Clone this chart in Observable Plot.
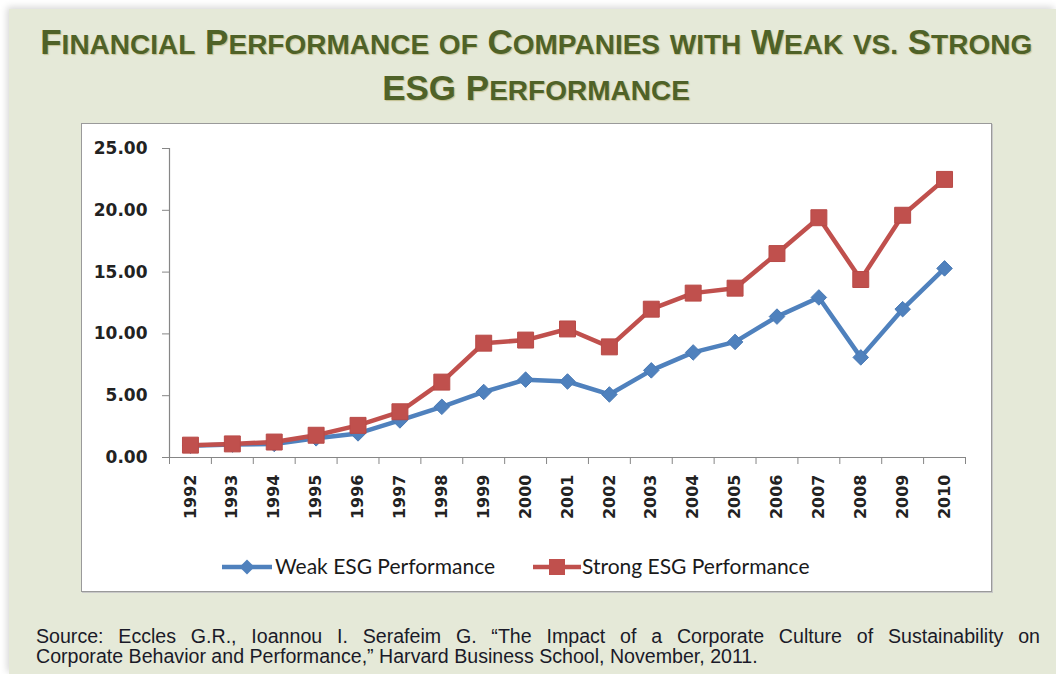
<!DOCTYPE html>
<html><head><meta charset="utf-8">
<script src="https://cdn.jsdelivr.net/npm/d3@7"></script>
<script src="https://cdn.jsdelivr.net/npm/@observablehq/plot@0.6"></script>
<style>
body{margin:0;background:#fff;width:1056px;height:674px;overflow:hidden;position:relative;}
#panel{position:absolute;left:9px;top:9px;width:1047px;height:665px;background:#e5e9d8;box-shadow:-2px -2px 7px rgba(0,0,0,0.16);}
.tline{position:absolute;left:40px;width:992px;text-align:center;font-family:"Liberation Sans",Arial,sans-serif;font-weight:bold;color:#4f6228;font-size:35px;line-height:35px;white-space:nowrap;text-shadow:1px 1px 1px rgba(170,160,90,0.55);}
.tline .sm{font-size:28px;}
#box{position:absolute;left:81px;top:123px;width:909px;height:467px;background:#fff;border:1px solid #9a9a9a;box-shadow:1px 1px 0 #c8c8c8;}
#chart{position:absolute;left:81px;top:123px;}
.leg{position:absolute;top:555px;font-family:Lato,"Open Sans",sans-serif;font-size:21px;line-height:21px;color:#1a1a1a;white-space:nowrap;}
.sw{position:absolute;top:557px;}
.cap{position:absolute;left:36px;width:1004px;font-family:"Liberation Sans",Arial,sans-serif;font-size:19.6px;line-height:20px;color:#1a1a28;}
</style>
</head><body>
<div id="panel"></div>
<div class="tline" id="t1" style="top:24px"></div>
<div class="tline" id="t2" style="top:70px"></div>
<div id="box"></div>
<div id="chart"></div>
<svg class="sw" style="left:220px" width="54" height="20"><line x1="2" x2="52" y1="10" y2="10" stroke="#4f81bd" stroke-width="4.5"/><path d="M27,2.5L34.5,10L27,17.5L19.5,10Z" fill="#4f81bd"/></svg>
<div class="leg" style="left:275px">Weak ESG Performance</div>
<svg class="sw" style="left:531px" width="52" height="20"><line x1="2" x2="50" y1="10" y2="10" stroke="#c0504d" stroke-width="4.5"/><rect x="18" y="2" width="16" height="16" fill="#c0504d"/></svg>
<div class="leg" style="left:582px">Strong ESG Performance</div>
<div class="cap" style="top:626px;text-align:justify;text-align-last:justify;">Source: Eccles G.R., Ioannou I. Serafeim G. “The Impact of a Corporate Culture of Sustainability on</div>
<div class="cap" style="top:646px;">Corporate Behavior and Performance,” Harvard Business School, November, 2011.</div>
<script>
const titleLine1 = "Financial Performance of Companies with Weak vs. Strong";
const titleLine2 = "ESG Performance";
const years = [1992,1993,1994,1995,1996,1997,1998,1999,2000,2001,2002,2003,2004,2005,2006,2007,2008,2009,2010];
const weak = [0.95,1.05,1.1,1.55,1.95,3.0,4.1,5.3,6.3,6.15,5.1,7.05,8.5,9.35,11.4,12.95,8.1,12.0,15.3];
const strong = [1.0,1.1,1.25,1.8,2.6,3.7,6.1,9.25,9.5,10.4,8.95,12.0,13.3,13.7,16.5,19.4,14.4,19.6,22.5];
const yTicks = [0,5,10,15,20,25];

function smallCaps(el, s){
  const span = document.createElement("span");
  for (const ch of s){
    const c = document.createElement("span");
    if (ch === ch.toUpperCase() && ch !== ch.toLowerCase()) { c.textContent = ch; }
    else if (ch === " ") { c.textContent = " "; }
    else { c.className = "sm"; c.textContent = ch.toUpperCase(); }
    span.appendChild(c);
  }
  el.appendChild(span);
  return span;
}
const s1 = smallCaps(document.getElementById("t1"), titleLine1);
smallCaps(document.getElementById("t2"), titleLine2);
const f = 992 / s1.getBoundingClientRect().width;
for (const id of ["t1","t2"]) {
  const el = document.getElementById(id);
  el.style.transform = `scaleX(${f})`;
  el.style.transformOrigin = "center";
}

const weakData = years.map((y,i)=>({year:y, value:weak[i]}));
const strongData = years.map((y,i)=>({year:y, value:strong[i]}));
const bounds = [...years.map(y=>y-0.5), years[years.length-1]+0.5];
const axisColor = "#868686";

const chart = Plot.plot({
  width: 911, height: 404,
  marginLeft: 88, marginRight: 27, marginTop: 25, marginBottom: 70,
  style: {background: "transparent", fontFamily: "DejaVu Sans", fontWeight: "bold", overflow: "visible", color: "#222"},
  x: {domain: [years[0]-0.5, years[years.length-1]+0.5], axis: null},
  y: {domain: [0, 25], axis: null},
  marks: [
    Plot.ruleY([0], {stroke: axisColor, strokeWidth: 1.2}),
    Plot.ruleX([years[0]-0.5], {stroke: axisColor, strokeWidth: 1.2}),
    Plot.axisY({ticks: yTicks, label: null, tickSize: 7, tickPadding: 15, tickFormat: d => d.toFixed(2), fontSize: 17, stroke: axisColor, fill: "#222", fontWeight: "bold"}),
    Plot.axisX({ticks: bounds, label: null, tickSize: 7, tickFormat: () => "", stroke: axisColor}),
    Plot.axisX({ticks: years, label: null, tickSize: 0, tickPadding: 17, tickRotate: -90, tickFormat: d => String(d), fontSize: 16, fill: "#222", fontWeight: "bold"}),
    Plot.line(weakData, {x: "year", y: "value", stroke: "#4f81bd", strokeWidth: 4.5}),
    Plot.dot(weakData, {x: "year", y: "value", symbol: "diamond2", r: 7, fill: "#4f81bd", stroke: "#4a7ab5", strokeWidth: 1}),
    Plot.line(strongData, {x: "year", y: "value", stroke: "#c0504d", strokeWidth: 4.5}),
    Plot.dot(strongData, {x: "year", y: "value", symbol: "square", r: 9, fill: "#c0504d", stroke: "#b84a47", strokeWidth: 1})
  ]
});
document.getElementById("chart").appendChild(chart);
</script>
</body></html>
